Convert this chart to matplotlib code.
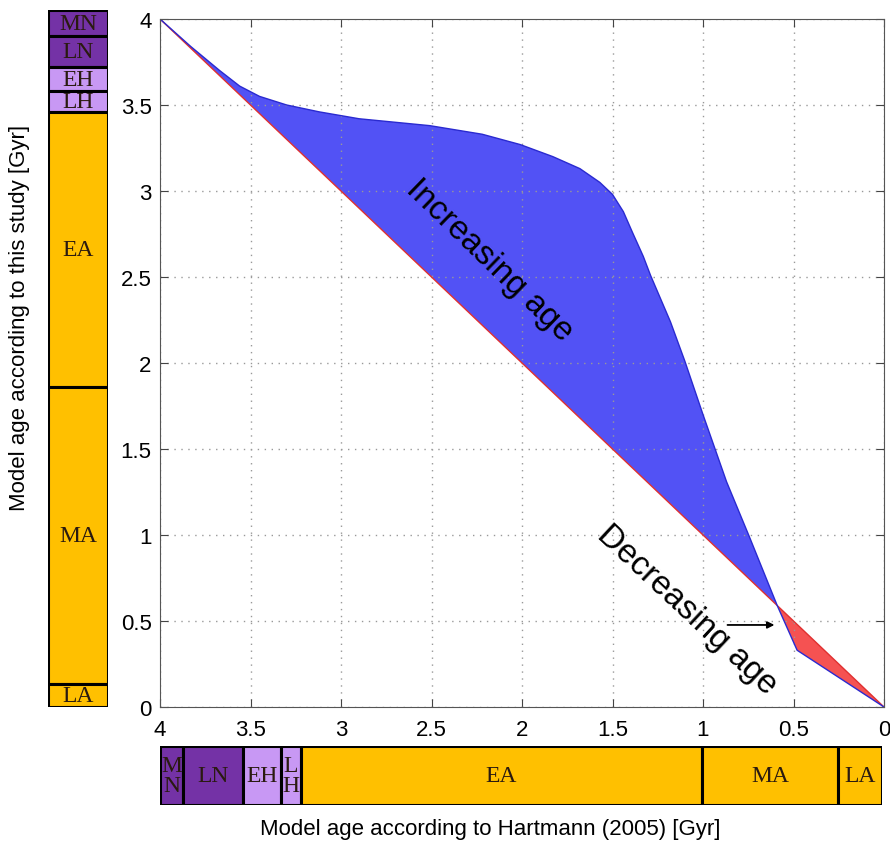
import matplotlib
matplotlib.use('Agg')
import matplotlib.pyplot as plt
import numpy as np

plt.rcParams['font.family'] = ['Liberation Sans', 'DejaVu Sans']

# model age according to Hartmann (2005) vs this study [Gyr]
hart_age = np.array([4.0, 3.83, 3.67, 3.56, 3.45, 3.30, 3.12, 2.90, 2.51, 2.22, 2.01,
                     1.83, 1.68, 1.57, 1.50, 1.44, 1.39, 1.33, 1.29, 1.18, 1.10, 1.00,
                     0.87, 0.74, 0.59, 0.48, 0.0])
study_age = np.array([4.0, 3.84, 3.70, 3.61, 3.55, 3.50, 3.46, 3.42, 3.38, 3.33, 3.27,
                      3.20, 3.13, 3.05, 2.98, 2.88, 2.76, 2.62, 2.51, 2.24, 2.01, 1.70,
                      1.31, 0.98, 0.59, 0.33, 0.0])

# epochs, oldest first
epochs_left = ['MN', 'LN', 'EH', 'LH', 'EA', 'MA', 'LA']
bounds_left = [4.05, 3.90, 3.72, 3.58, 3.46, 1.86, 0.134, 0.0]
epochs_bottom = ['M\nN', 'LN', 'EH', 'L\nH', 'EA', 'MA', 'LA']
bounds_bottom = [4.0, 3.87, 3.54, 3.33, 3.22, 1.0, 0.243, 0.0]

dark_purple = '#7432a6'
light_purple = '#c898f4'
orange = '#ffc000'
epoch_colors = [dark_purple, dark_purple, light_purple, light_purple, orange, orange, orange]

W, H = 890, 845
fig = plt.figure(figsize=(8.9, 8.45), dpi=100)

# main axes (pixel geometry of the reference)
ax = fig.add_axes([160 / W, 1 - 708 / H, 724 / W, 688 / H])
ax.fill_between(hart_age, study_age, hart_age, where=study_age >= hart_age,
                interpolate=True, color='#5252f5', linewidth=0)
ax.fill_between(hart_age, study_age, hart_age, where=study_age <= hart_age,
                interpolate=True, color='#f55252', linewidth=0)
ax.plot(hart_age, hart_age, color='#e03030', lw=1)
ax.plot(hart_age, study_age, color='#2a2ad0', lw=1)

ax.set_xlim(4, 0)
ax.set_ylim(0, 4)
ticks = np.arange(0, 4.01, 0.5)
ax.set_xticks(ticks)
ax.set_yticks(ticks)
ax.set_xticklabels(['%g' % t for t in ticks])
ax.set_yticklabels(['%g' % t for t in ticks])
ax.tick_params(direction='in', top=True, right=True, labelsize=16, length=6,
               color='#444444')
ax.tick_params(axis='x', pad=9)
ax.tick_params(axis='y', pad=6)
ax.grid(True, linestyle=(0, (1, 4)), color='#999999', lw=1)
for s in ax.spines.values():
    s.set_color('#555555')

ax.text(2.18, 2.60, 'Increasing age', fontsize=24, rotation=-44,
        ha='center', va='center', rotation_mode='anchor')
ax.text(1.09, 0.57, 'Decreasing age', fontsize=24, rotation=-43,
        ha='center', va='center', rotation_mode='anchor')
ax.annotate('', xy=(0.59, 0.477), xytext=(0.88, 0.477),
            arrowprops=dict(arrowstyle='-|>', color='black', lw=1.3))

# left epoch bar (this study)
top_left = bounds_left[0]
axl = fig.add_axes([48 / W, 1 - 708 / H, 60 / W, 688 / H * top_left / 4])
axl.set_xlim(0, 1)
axl.set_ylim(0, top_left)
for i, name in enumerate(epochs_left):
    hi, lo = bounds_left[i], bounds_left[i + 1]
    axl.bar(0.5, hi - lo, bottom=lo, width=1, color=epoch_colors[i],
            edgecolor='black', linewidth=2.2)
    axl.text(0.5, (hi + lo) / 2, name, ha='center', va='center',
             fontsize=17, family='Liberation Serif', color='#2a1a10')
axl.axis('off')

# bottom epoch bar (Hartmann 2005)
axb = fig.add_axes([160 / W, 1 - 806 / H, 722 / W, 59 / H])
axb.set_xlim(4, 0)
axb.set_ylim(0, 1)
for i, name in enumerate(epochs_bottom):
    hi, lo = bounds_bottom[i], bounds_bottom[i + 1]
    axb.barh(0.5, hi - lo, left=lo, height=1, color=epoch_colors[i],
             edgecolor='black', linewidth=2.2)
    axb.text((hi + lo) / 2, 0.5, name, ha='center', va='center',
             fontsize=17, family='Liberation Serif', color='#2a1a10',
             linespacing=0.9)
axb.axis('off')

fig.text(490 / W, 1 - 830 / H, 'Model age according to Hartmann (2005) [Gyr]',
         ha='center', va='center', fontsize=16)
fig.text(20 / W, 1 - 318 / H, 'Model age according to this study [Gyr]',
         ha='center', va='center', rotation=90, fontsize=16)

fig.savefig('out.png', dpi=100)
